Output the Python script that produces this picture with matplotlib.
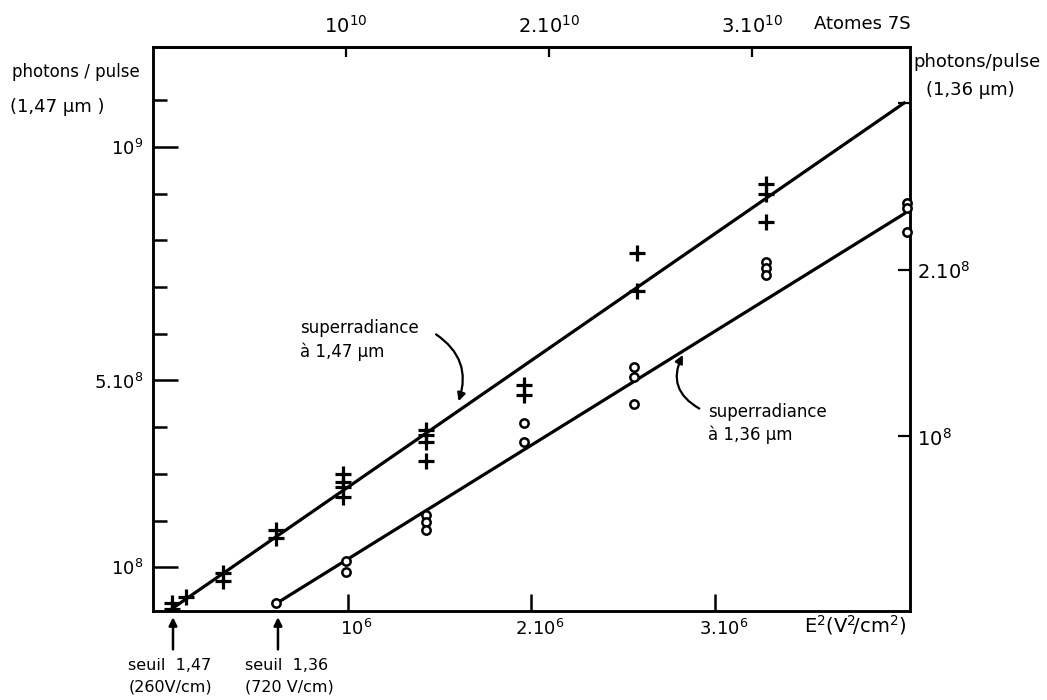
import matplotlib
matplotlib.use('Agg')
import matplotlib.pyplot as plt
from matplotlib.transforms import ScaledTranslation

plt.rcParams['font.family'] = ['DejaVu Sans']
plt.rcParams['mathtext.default'] = 'regular'

# ---------------- data ----------------
# E^2 in units of 1e6 V^2/cm^2 ; photons/pulse in units of 1e8
plus_E2 = [0.044, 0.044, 0.12, 0.32, 0.32, 0.61, 0.61, 0.975, 0.975, 0.975, 0.975,
           1.43, 1.43, 1.43, 1.43, 1.96, 1.96, 2.58, 2.58, 3.28, 3.28, 3.28]
plus_N = [0.24, 0.11, 0.36, 0.88, 0.71, 1.80, 1.63, 3.00, 2.83, 2.72, 2.51,
          3.94, 3.83, 3.68, 3.28, 4.90, 4.69, 7.73, 6.92, 9.21, 8.99, 8.39]
circ_E2 = [0.61, 0.99, 0.99, 1.43, 1.43, 1.43, 1.96, 1.96, 2.56, 2.56, 2.56,
           3.28, 3.28, 3.28, 4.05, 4.05, 4.05]
circ_N = [0.0, 0.252, 0.186, 0.529, 0.486, 0.438, 1.081, 0.967, 1.417, 1.357, 1.195,
          2.048, 2.012, 1.970, 2.402, 2.372, 2.228]
fit147_E2 = [0.02, 4.04]
fit147_N = [0.05, 10.96]
fit136_E2 = [0.616, 4.04]
fit136_N = [0.0, 2.342]

bottom_ticks = [1, 2, 3]
bottom_labels = [r'$10^6$', r'$2.10^6$', r'$3.10^6$']
top_ticks = [1, 2, 3]
top_labels = [r'$10^{10}$', r'$2.10^{10}$', r'$3.10^{10}$']
left_major = [1, 5, 10]
left_labels = [r'$10^8$', r'$5.10^8$', r'$10^9$']
left_minor = [2, 3, 4, 6, 7, 8, 9, 11]
right_major = [1, 2]
right_labels = [r'$10^8$', r'$2.10^8$']
right_minor = [3]

# ---------------- figure ----------------
W, H = 1047, 700
fig = plt.figure(figsize=(W / 100, H / 100), dpi=100)
L, R, T, B = 153, 910, 47, 611
ax = fig.add_axes([L / W, 1 - B / H, (R - L) / W, (B - T) / H])
ax.set_xlim(-0.06, 4.065)
ax.set_ylim(0.064, 12.14)

for s in ax.spines.values():
    s.set_linewidth(1.8)

ax.set_xticks(bottom_ticks)
ax.set_xticklabels(bottom_labels)
ax.tick_params(axis='x', direction='in', length=12, width=1.8, pad=6, labelsize=13)
for lab in ax.get_xticklabels():
    lab.set_transform(lab.get_transform() + ScaledTranslation(0.09, 0, fig.dpi_scale_trans))

ax.set_yticks(left_major)
ax.set_yticklabels(left_labels)
ax.set_yticks(left_minor, minor=True)
ax.tick_params(axis='y', which='major', direction='in', length=18, width=1.8, pad=7, labelsize=13)
ax.tick_params(axis='y', which='minor', direction='in', length=10, width=1.8)

ax2 = ax.twinx()
ax2.set_ylim(-0.048, 3.339)
ax2.set_yticks(right_major)
ax2.set_yticklabels(right_labels)
ax2.set_yticks(right_minor, minor=True)
ax2.tick_params(axis='y', which='both', direction='in', length=9, width=1.6, pad=5, labelsize=14)
for s in ax2.spines.values():
    s.set_linewidth(1.8)


def fwd(e):
    return 0.1034 + 0.904 * e


def inv(a):
    return (a - 0.1034) / 0.904


sec = ax.secondary_xaxis('top', functions=(fwd, inv))
sec.set_xticks(top_ticks)
sec.set_xticklabels(top_labels)
sec.tick_params(direction='in', length=7, width=1.6, pad=7, labelsize=14)
sec.spines['top'].set_linewidth(1.8)

# lines and points
ax.plot(fit147_E2, fit147_N, color='black', lw=2.3, solid_capstyle='butt', zorder=2)
ax2.plot(fit136_E2, fit136_N, color='black', lw=2.3, solid_capstyle='butt', zorder=2)
ax.plot(plus_E2, plus_N, ls='none', marker='+', ms=11, mew=2.3, color='black', zorder=3)
ax2.plot(circ_E2, circ_N, ls='none', marker='o', ms=6, mew=1.8, mfc='white',
         mec='black', zorder=3, clip_on=False)

# annotations
ax.text(0.74, 5.87, 'superradiance\nà 1,47 µm', fontsize=12, ha='left', va='center',
        linespacing=1.35)
ax.annotate('', xy=(1.60, 4.50), xytext=(1.47, 6.02),
            arrowprops=dict(arrowstyle='-|>', color='black', lw=1.6,
                            connectionstyle='arc3,rad=-0.4', mutation_scale=12))
ax.text(2.965, 4.08, 'superradiance\nà 1,36 µm', fontsize=12, ha='left', va='center',
        linespacing=1.35)
ax.annotate('', xy=(2.834, 5.60), xytext=(2.93, 4.37),
            arrowprops=dict(arrowstyle='-|>', color='black', lw=1.6,
                            connectionstyle='arc3,rad=-0.5', mutation_scale=12))

xtr = ax.get_xaxis_transform()
ax.annotate('', xy=(0.049, -0.006), xycoords=xtr, xytext=(0.049, -0.073), textcoords=xtr,
            arrowprops=dict(arrowstyle='-|>', color='black', lw=1.8, mutation_scale=12),
            annotation_clip=False)
ax.annotate('', xy=(0.621, -0.006), xycoords=xtr, xytext=(0.621, -0.073), textcoords=xtr,
            arrowprops=dict(arrowstyle='-|>', color='black', lw=1.8, mutation_scale=12),
            annotation_clip=False)
ax.text(0.033, -0.115, 'seuil  1,47\n(260V/cm)', transform=xtr, fontsize=11.5,
        ha='center', va='center', linespacing=1.55, clip_on=False)
ax.text(0.44, -0.115, 'seuil  1,36\n(720 V/cm)', transform=xtr, fontsize=11.5,
        ha='left', va='center', linespacing=1.55, clip_on=False)

ax.text(0.995, -0.004, r'$E^2(V^2\!/cm^2)$', transform=ax.transAxes, fontsize=14,
        ha='right', va='top', clip_on=False)

fig.text(12 / W, 1 - 72 / H, 'photons / pulse', fontsize=12, ha='left', va='center')
fig.text(10 / W, 1 - 107 / H, '(1,47 µm )', fontsize=13, ha='left', va='center')
fig.text(977 / W, 1 - 62 / H, 'photons/pulse', fontsize=13, ha='center', va='center')
fig.text(970 / W, 1 - 90 / H, '(1,36 µm)', fontsize=13, ha='center', va='center')
fig.text(862 / W, 1 - 24 / H, 'Atomes 7S', fontsize=13, ha='center', va='center')

fig.savefig('out.png', dpi=100, facecolor='white')
